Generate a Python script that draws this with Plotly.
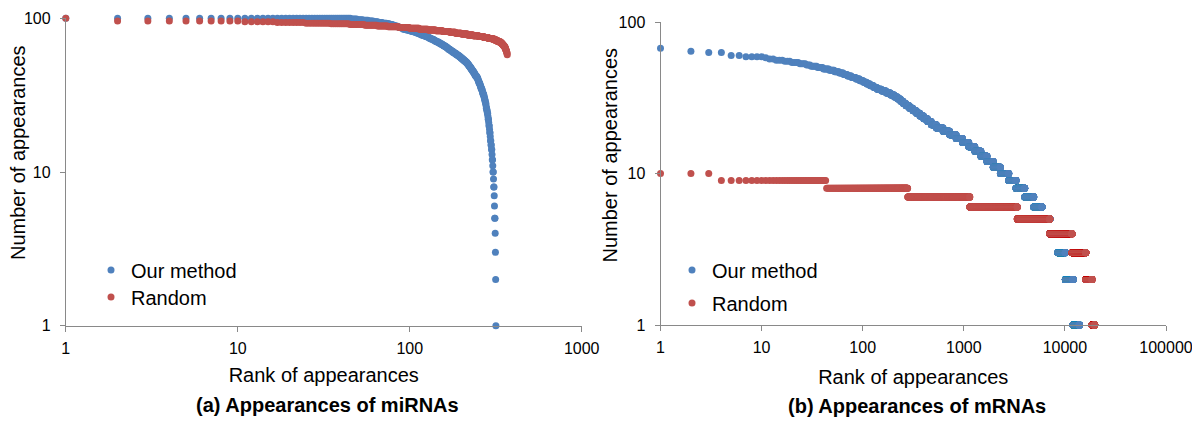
import numpy as np
import plotly.graph_objects as go

# ---------------- (a) Appearances of miRNAs ----------------
# appearance count level -> number of miRNAs having that count
mirna_ours_value = [100, 99, 98, 97, 96, 95, 94, 93, 92, 91, 90, 89, 88, 87, 86, 85, 84, 83, 82, 81,
                    80, 79, 78, 77, 76, 75, 74, 73, 72, 71, 70, 69, 68, 67, 66, 65, 64, 63, 62, 61,
                    60, 59, 58, 57, 56, 55, 54, 53, 52, 51, 50, 49, 48, 47, 46, 45, 44, 43, 42, 41,
                    40, 39, 38, 37, 36, 35, 34, 33, 32, 31, 30, 29, 28, 27, 26, 25, 24, 23, 22, 21,
                    20, 19, 18, 17, 16, 15, 14, 13, 12, 11, 10, 9, 8, 7, 6, 5, 4, 3, 2, 1]
mirna_ours_count = [45, 4, 4, 4, 4, 4, 4, 4, 3, 3, 2, 3, 2, 3, 2, 4, 4, 3, 4, 4,
                    3, 3, 4, 3, 4, 3, 3, 4, 3, 3, 4, 3, 4, 3, 4, 3, 3, 4, 3, 4,
                    4, 4, 4, 4, 4, 4, 4, 4, 4, 3, 3, 3, 3, 3, 3, 3, 3, 3, 4, 3,
                    2, 2, 3, 2, 2, 3, 2, 2, 3, 2, 2, 2, 2, 1, 2, 2, 2, 1, 2, 1,
                    2, 1, 2, 1, 2, 2, 2, 1, 2, 1, 2, 1, 2, 1, 1, 2, 1, 1, 1, 1]

mirna_random_value = [100, 96, 95, 94, 93, 92, 91, 90, 89, 88, 87, 86, 85, 84, 83, 82, 81, 80,
                      79, 78, 77, 76, 75, 74, 73, 72, 71, 70, 69, 68, 67, 66, 65, 64, 63, 62,
                      61, 60, 59, 58]
mirna_random_count = [1, 9, 6, 8, 10, 10, 10, 10, 10, 12, 13, 14, 14, 14, 14, 15, 14, 15,
                      17, 17, 18, 18, 17, 17, 10, 9, 8, 8, 5, 4, 4, 4, 3, 2, 2, 2,
                      2, 1, 1, 1]

# ---------------- (b) Appearances of mRNAs ----------------
mrna_ours_value = [67, 64, 63, 60, 59, 58, 57, 56, 55, 54, 53, 52, 51, 50, 49, 48, 47, 46, 45, 44,
                   43, 42, 41, 40, 39, 38, 37, 36, 35, 34, 33, 32, 31, 30, 29, 28, 27, 26, 25, 24,
                   23, 22, 21, 20, 19, 18, 17, 16, 15, 14, 13, 12, 11, 10, 9, 8, 7, 6, 5, 4,
                   3, 2, 1]
mrna_ours_count = [1, 1, 2, 2, 4, 1, 2, 3, 3, 4, 4, 3, 5, 5, 6, 6, 6, 6, 6, 7,
                   8, 8, 8, 8, 9, 10, 10, 15, 17, 18, 17, 16, 15, 15, 16, 22, 24, 26, 28, 33,
                   37, 39, 59, 87, 102, 114, 131, 150, 165, 190, 220, 260, 346, 484, 500, 720, 910, 1020, 1170, 1400,
                   1600, 1950, 1850]

mrna_random_value = [10, 9, 8, 7, 6, 5, 4, 3, 2, 1]
mrna_random_count = [3, 40, 235, 867, 2235, 3700, 4670, 4350, 2400, 1200]

x_ticks_a = [1, 10, 100, 1000]
x_ticks_b = [1, 10, 100, 1000, 10000, 100000]
y_ticks = [1, 10, 100]

series_names = ["Our method", "Random"]
panel_titles = ["(a) Appearances of miRNAs", "(b) Appearances of mRNAs"]
x_title = "Rank of appearances"
y_title = "Number of appearances"

BLUE = "#4F81BD"
RED = "#C0504D"
FONT = "Liberation Sans, Arial, sans-serif"
AXIS_GREY = "#898989"

# the page body has an 8px margin, so the figure is sized to the visible area
W, H = 1192, 420
OFF = 8


def px_x(sx):
    return (sx - OFF) / W


def px_y(sy):
    return 1 - (sy - OFF) / H


def ranked(values, counts):
    """Sorted appearance counts against their rank (1..N)."""
    y = np.repeat(np.asarray(values, dtype=float), counts)
    x = np.arange(1, len(y) + 1)
    return x, y


fig = go.Figure()
panels = [
    ("x", "y", (mirna_ours_value, mirna_ours_count), (mirna_random_value, mirna_random_count), "legend", "legend2"),
    ("x2", "y2", (mrna_ours_value, mrna_ours_count), (mrna_random_value, mrna_random_count), "legend3", "legend4"),
]
for xa, ya, ours, rnd, lg1, lg2 in panels:
    for (vals, cnts), name, color, lg in ((ours, series_names[0], BLUE, lg1), (rnd, series_names[1], RED, lg2)):
        x, y = ranked(vals, cnts)
        fig.add_trace(go.Scatter(
            x=x, y=y, mode="markers", name=name, xaxis=xa, yaxis=ya, legend=lg, showlegend=True,
            marker=dict(color=color, size=7, line=dict(width=0)),
            cliponaxis=False, hoverinfo="skip",
        ))

axis_common = dict(
    type="log", showgrid=False, zeroline=False, showline=True, linecolor=AXIS_GREY, linewidth=1,
    ticks="outside", ticklen=5, tickcolor=AXIS_GREY, tickwidth=1, automargin=False,
    tickfont=dict(family=FONT, size=16, color="#000000"), tickmode="array",
    title=dict(font=dict(family=FONT, size=20, color="#000000")),
)


def ax(**kw):
    d = {k: (dict(v) if isinstance(v, dict) else v) for k, v in axis_common.items()}
    for k, v in kw.items():
        if k == "title":
            d["title"] = dict(d["title"], **v)
        else:
            d[k] = v
    return d


title_font = dict(family=FONT, size=20, color="#000000")
fig.update_layout(
    width=W, height=H,
    margin=dict(l=0, r=0, t=0, b=0, autoexpand=False),
    paper_bgcolor="white", plot_bgcolor="white",
    showlegend=True,
    font=dict(family=FONT, color="#000000"),
    xaxis=ax(domain=[px_x(65.8), px_x(581.7)], range=[0, 3], anchor="y",
             tickvals=x_ticks_a, ticktext=[str(v) for v in x_ticks_a], ticklabelstandoff=3,
             title=dict(text=x_title, standoff=12)),
    yaxis=ax(domain=[px_y(325.7), px_y(18.3)], range=[0, 2], anchor="x",
             tickvals=y_ticks, ticktext=[str(v) for v in y_ticks], ticklabelstandoff=6),
    xaxis2=ax(domain=[px_x(660.5), px_x(1166)], range=[0, 5], anchor="y2",
              tickvals=x_ticks_b, ticktext=[str(v) for v in x_ticks_b], ticklabelstandoff=3,
              title=dict(text=x_title, standoff=14)),
    yaxis2=ax(domain=[px_y(325), px_y(22)], range=[0, 2], anchor="x2",
              tickvals=y_ticks, ticktext=[str(v) for v in y_ticks], ticklabelstandoff=6),
    annotations=[
        dict(text=y_title, textangle=-90, x=px_x(18), y=px_y(153), xref="paper", yref="paper",
             showarrow=False, xanchor="center", yanchor="middle", font=title_font),
        dict(text=y_title, textangle=-90, x=px_x(609.5), y=px_y(155), xref="paper", yref="paper",
             showarrow=False, xanchor="center", yanchor="middle", font=title_font),
        dict(text="<b>" + panel_titles[0] + "</b>", x=px_x(327), y=px_y(405), xref="paper", yref="paper",
             showarrow=False, xanchor="center", yanchor="middle", font=title_font),
        dict(text="<b>" + panel_titles[1] + "</b>", x=px_x(917), y=px_y(406), xref="paper", yref="paper",
             showarrow=False, xanchor="center", yanchor="middle", font=title_font),
    ],
)

leg_common = dict(xanchor="left", yanchor="middle", bgcolor="rgba(0,0,0,0)", borderwidth=0,
                  font=dict(family=FONT, size=20, color="#000000"))
fig.update_layout(
    legend=dict(leg_common, x=px_x(91), y=px_y(270)),
    legend2=dict(leg_common, x=px_x(91), y=px_y(297)),
    legend3=dict(leg_common, x=px_x(672), y=px_y(270)),
    legend4=dict(leg_common, x=px_x(672), y=px_y(303)),
)

fig.write_html("out.html")
